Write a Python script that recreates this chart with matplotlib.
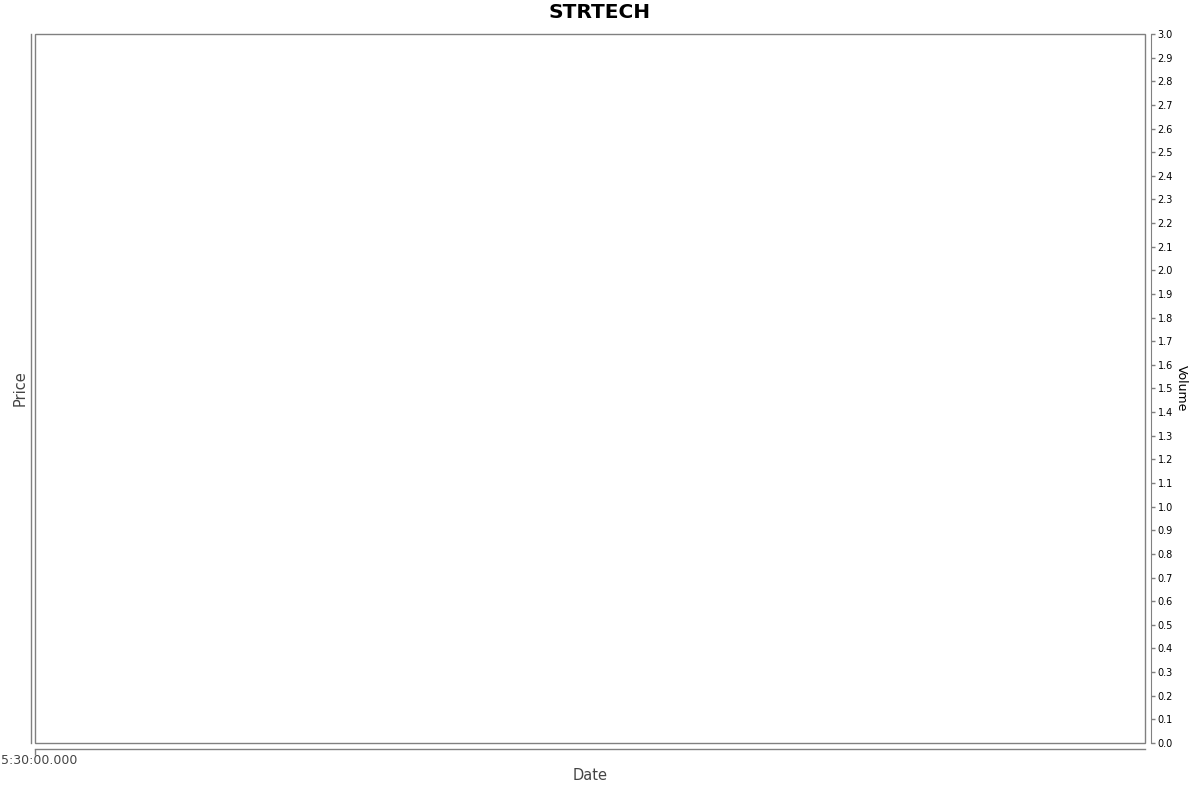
import numpy as np
import matplotlib
matplotlib.use('Agg')
import matplotlib.pyplot as plt
from matplotlib.patches import Rectangle
from matplotlib.transforms import ScaledTranslation

# chart data (no trades in range, so series are empty)
title = 'STRTECH'
dates = []
prices = []
volumes = []
x_tick_pos = [0]
x_tick_labels = ['5:30:00.000']
volume_ticks = [round(v * 0.1, 1) for v in range(31)]
volume_range = (0.0, 3.0)

axis_grey = '#808080'

fig = plt.figure(figsize=(12, 7.92), dpi=100)
ax = fig.add_axes([35/1200, 1 - 743/792, 1110/1200, 709/792])
ax.plot(dates, prices, color='red')
ax.set_xlim(0, 1)
ax.set_ylim(0, 1)

# volume axis on the right (twinx first, it resets the left ticks)
ax2 = ax.twinx()
ax2.bar(dates, volumes)
ax2.set_ylim(*volume_range)
ax2.set_yticks(volume_ticks)
ax2.set_yticklabels([f'{v:.1f}' for v in volume_ticks])
for s in ['top', 'left', 'bottom']:
    ax2.spines[s].set_visible(False)
ax2.spines['right'].set_position(('outward', 4))
ax2.spines['right'].set_color(axis_grey)
ax2.tick_params(axis='y', left=False, length=3, width=1, color=axis_grey, labelsize=7, pad=2)
ax2.set_ylabel('Volume', rotation=-90, fontsize=9)
ax2.yaxis.set_label_coords((1181 - 35) / 1110, 0.5)
ax2.yaxis.label.set_va('center')

# plot border
ax.add_patch(Rectangle((0, 0), 1, 1, transform=ax.transAxes, fill=False,
                       ec=axis_grey, lw=1, clip_on=False, zorder=5))

ax.spines['top'].set_visible(False)
ax.spines['right'].set_visible(False)
ax.spines['left'].set_position(('outward', 3))
ax.spines['bottom'].set_position(('outward', 4))
for s in ['left', 'bottom']:
    ax.spines[s].set_color(axis_grey)
    ax.spines[s].set_linewidth(1)

ax.set_yticks([])
ax.tick_params(axis='y', left=False, right=False, labelleft=False)
ax.set_xticks(x_tick_pos)
ax.set_xticklabels(x_tick_labels)
ax.tick_params(axis='x', length=4, width=1, color=axis_grey, labelsize=9,
               labelcolor='#444444', pad=0)
for lab in ax.get_xticklabels():
    lab.set_transform(lab.get_transform() + ScaledTranslation(4/100, 0, fig.dpi_scale_trans))

ax.set_ylabel('Price', fontsize=10.5, color='#444444')
ax.yaxis.set_label_coords((20 - 35) / 1110, 0.5)
ax.yaxis.label.set_va('center')
ax.set_xlabel('Date', fontsize=10.5, color='#444444')
ax.xaxis.set_label_coords(0.5, (743 - 775) / 709)
ax.xaxis.label.set_va('center')

fig.text(0.5, 1 - 13/792, title, ha='center', va='center', fontsize=14.5, fontweight='bold')

fig.savefig('out.png', dpi=100)
